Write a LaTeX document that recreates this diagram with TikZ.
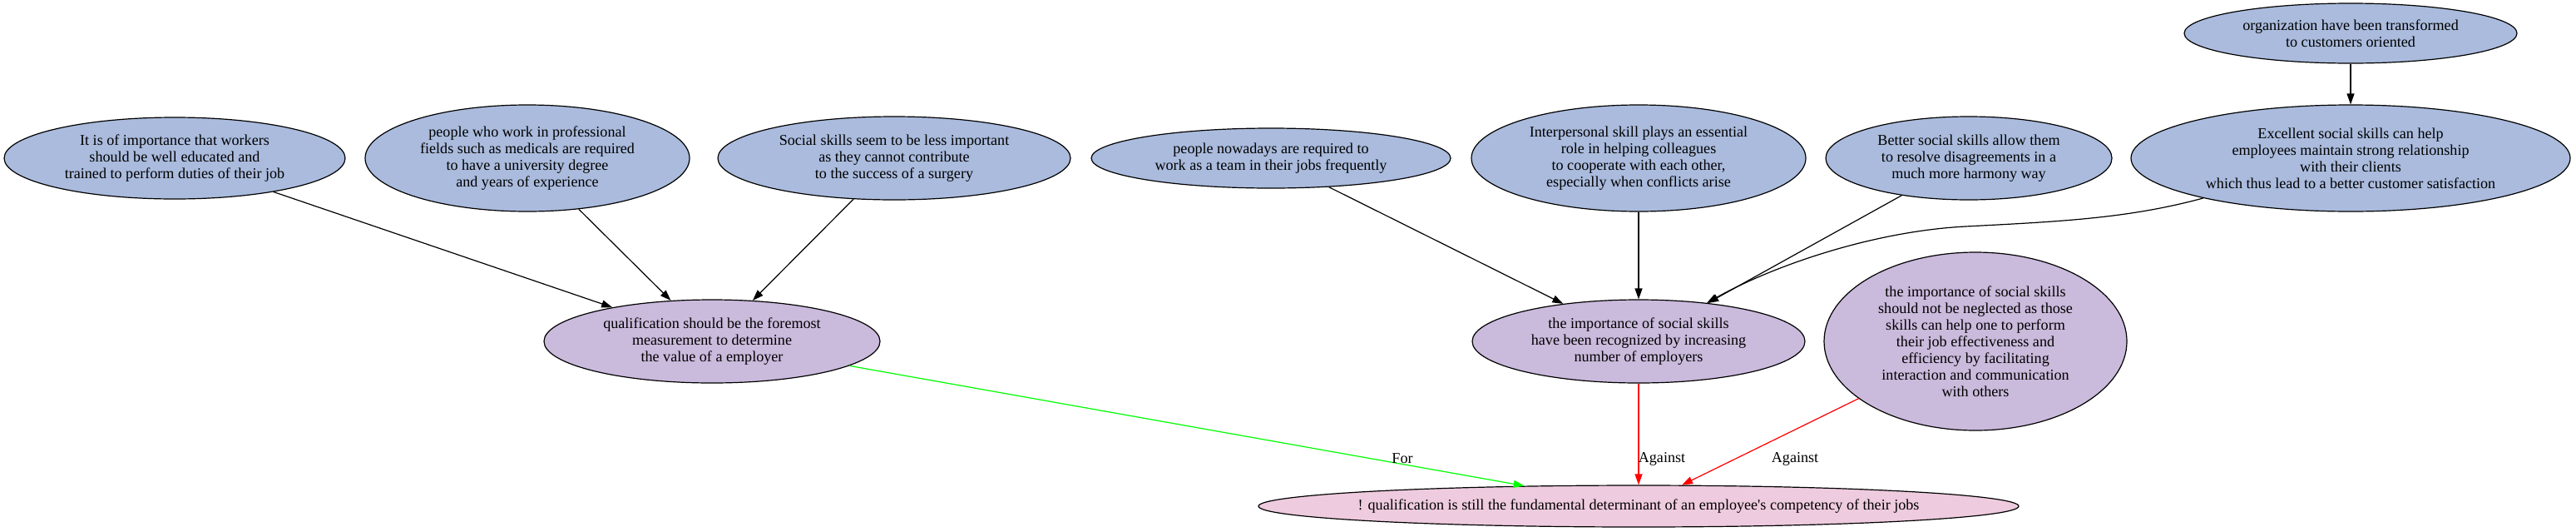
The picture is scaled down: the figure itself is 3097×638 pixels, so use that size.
\documentclass[tikz,border=0pt]{standalone}
\usepackage{fontspec}
\newfontfamily\tnr{Liberation Serif}
\usetikzlibrary{shapes.geometric,arrows.meta}
\definecolor{nblue}{RGB}{170,187,221}
\definecolor{npurple}{RGB}{202,186,220}
\definecolor{npink}{RGB}{238,203,222}
\definecolor{egreen}{RGB}{0,255,0}
\definecolor{ered}{RGB}{255,0,0}
\begin{document}
\begin{tikzpicture}[x=0.5pt,y=-0.5pt,
  ell/.style={ellipse,draw=black,line width=0.6pt,inner sep=0pt,align=center,font=\tnr\fontsize{9.05}{10}\selectfont},
  blu/.style={ell,fill=nblue},
  pur/.style={ell,fill=npurple},
  pnk/.style={ell,fill=npink},
  arr/.style={-{Triangle[length=6.5pt,width=4.5pt]},line width=0.6pt},
  garr/.style={arr,draw=egreen,fill=egreen},
  rarr/.style={arr,draw=ered,fill=ered},
  elab/.style={inner sep=0pt,font=\tnr\fontsize{9.05}{10}\selectfont}]
\useasboundingbox (0,0) rectangle (3097,638);
% top row
\node[blu,minimum width=205pt,minimum height=49pt] (A) at (210,190) {It is of importance that workers\\should be well educated and\\trained to perform duties of their job};
\node[blu,minimum width=195pt,minimum height=64pt] (B) at (634,190) {people who work in professional\\fields such as medicals are required\\to have a university degree\\and years of experience};
\node[blu,minimum width=212pt,minimum height=50pt] (C) at (1075,190) {Social skills seem to be less important\\as they cannot contribute\\to the success of a surgery};
\node[blu,minimum width=216pt,minimum height=36pt] (D) at (1528,190) {people nowadays are required to\\work as a team in their jobs frequently};
\node[blu,minimum width=201pt,minimum height=64pt] (E) at (1970,190) {Interpersonal skill plays an essential\\role in helping colleagues\\to cooperate with each other,\\especially when conflicts arise};
\node[blu,minimum width=172pt,minimum height=50pt] (F) at (2367,190) {Better social skills allow them\\to resolve disagreements in a\\much more harmony way};
\node[blu,minimum width=264pt,minimum height=64pt] (G) at (2826,190) {Excellent social skills can help\\employees maintain strong relationship\\with their clients\\which thus lead to a better customer satisfaction};
\node[blu,minimum width=200pt,minimum height=36pt] (H) at (2826,40) {organization have been transformed\\to customers oriented};
% middle row
\node[pur,minimum width=202pt,minimum height=50pt] (I) at (856,410) {qualification should be the foremost\\measurement to determine\\the value of a employer};
\node[pur,minimum width=200pt,minimum height=50pt] (J) at (1970,410) {the importance of social skills\\have been recognized by increasing\\number of employers};
\node[pur,minimum width=182pt,minimum height=107pt] (K) at (2375,410) {the importance of social skills\\should not be neglected as those\\skills can help one to perform\\their job effectiveness and\\efficiency by facilitating\\interaction and communication\\with others};
% bottom
\node[pnk,minimum width=457pt,minimum height=25pt,inner xsep=-16pt] (L) at (1970,608) {! qualification is still the fundamental determinant of an employee's competency of their jobs};
% edges
\draw[arr] (H) -- (G);
\draw[arr] (A) -- (I);
\draw[arr] (B) -- (I);
\draw[arr] (C) -- (I);
\draw[arr] (D) -- (J);
\draw[arr] (E) -- (J);
\draw[arr] (F) -- (J);
\draw[arr] (G) .. controls (2560,262) and (2480,266) .. (2363,272) .. controls (2250,278) and (2130,320) .. (J);
\draw[garr] (I) -- (L);
\draw[rarr] (J) -- (L);
\draw[rarr] (K) -- (L);
% edge labels
\node[elab] (lfor) at (1686,551) {For};
\node[elab] (lag1) at (1998,551) {Against};
\node[elab] (lag2) at (2158,551) {Against};
\end{tikzpicture}
\end{document}
